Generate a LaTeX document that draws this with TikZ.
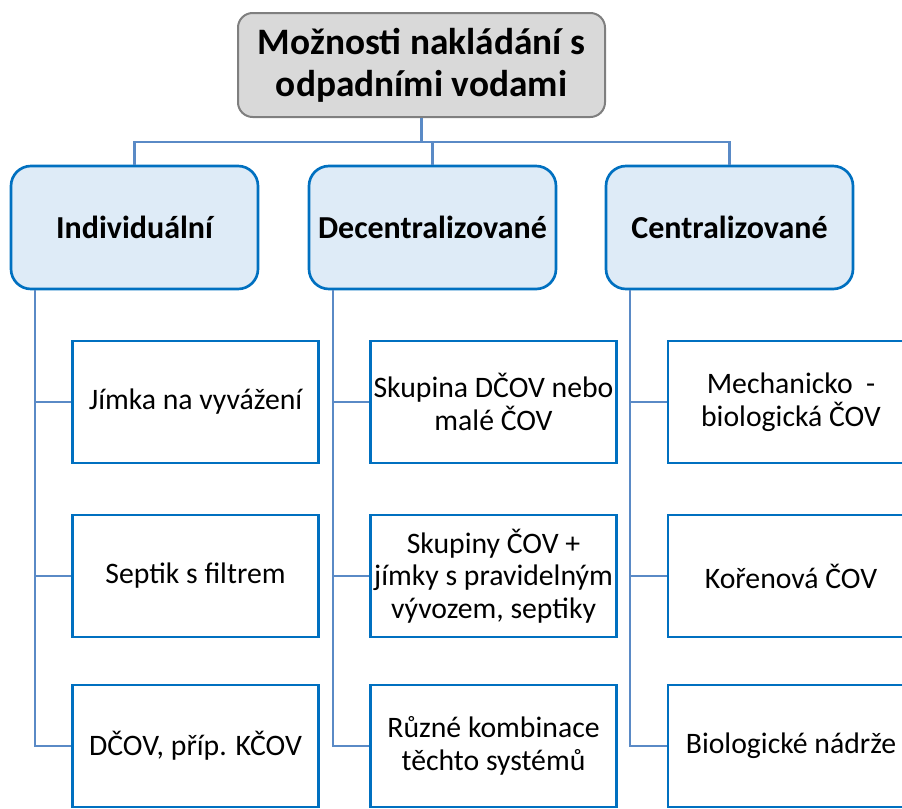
\documentclass[tikz,border=0pt]{standalone}
\usepackage{fontspec}
\setmainfont{Carlito}
\usetikzlibrary{calc}
\definecolor{boxblue}{HTML}{0070C0}
\definecolor{linkblue}{HTML}{5A8AC6}
\definecolor{catfill}{HTML}{DEEBF7}
\definecolor{topfill}{HTML}{D9D9D9}
\definecolor{topdraw}{HTML}{7F7F7F}
\begin{document}
\begin{tikzpicture}[x=0.75pt,y=-0.75pt,
 topbox/.style={draw=topdraw,fill=topfill,line width=1.5pt,rounded corners=11pt,minimum width=367*0.75pt,minimum height=104*0.75pt,align=center,inner sep=0pt,font=\fontsize{28}{31.5}\selectfont\bfseries},
 catbox/.style={draw=boxblue,fill=catfill,line width=2pt,rounded corners=15pt,minimum width=247*0.75pt,minimum height=123*0.75pt,inner sep=0pt,font=\fontsize{24}{28}\selectfont\bfseries},
 itembox/.style={draw=boxblue,fill=white,line width=2pt,minimum width=246*0.75pt,minimum height=122*0.75pt,align=center,inner sep=0pt,font=\fontsize{22.3}{24.4}\selectfont},
 link/.style={draw=linkblue,line width=1.6pt}]
\useasboundingbox (0,0) rectangle (902,808);
\clip (0,0) rectangle (902,808);
% top
\node[topbox] (top) at (421.5,65) {Možnosti nakládání s\\odpadními vodami};
% categories
\node[catbox] (ind) at (134.5,227.5) {Individuální};
\node[catbox] (dec) at (432.5,227.5) {Decentralizované};
\node[catbox] (cen) at (729.5,227.5) {Centralizované};
% items
\node[itembox] (i1) at (195.5,402) {Jímka na vyvážení};
\node[itembox] (i2) at (195.5,576) {Septik s filtrem};
\node[itembox] (i3) at (195.5,746) {DČOV, příp. KČOV};
\node[itembox] (d1) at (493.5,402) {Skupina DČOV nebo\\malé ČOV};
\node[itembox] (d2) at (493.5,576) {Skupiny ČOV +\\jímky s pravidelným\\vývozem, septiky};
\node[itembox] (d3) at (493.5,746) {Různé kombinace\\těchto systémů};
\node[itembox] (c1) at (791,402) {Mechanicko\ \ -\\biologická ČOV};
\node[itembox] (c2) at (791,576) {Kořenová ČOV};
\node[itembox] (c3) at (791,746) {Biologické nádrže};
% connectors top -> categories
\draw[link] (top.south) -- ++(0,24) -| (ind.north);
\draw[link] (top.south) -- ++(0,24) -| (dec.north);
\draw[link] (top.south) -- ++(0,24) -| (cen.north);
% connectors categories -> items
\foreach \c/\a/\b/\d in {ind/i1/i2/i3,dec/d1/d2/d3,cen/c1/c2/c3}{
  \draw[link] ($(\c.south west)+(25,0)$) |- (\a.west);
  \draw[link] ($(\c.south west)+(25,0)$) |- (\b.west);
  \draw[link] ($(\c.south west)+(25,0)$) |- (\d.west);
}
\end{tikzpicture}
\end{document}
